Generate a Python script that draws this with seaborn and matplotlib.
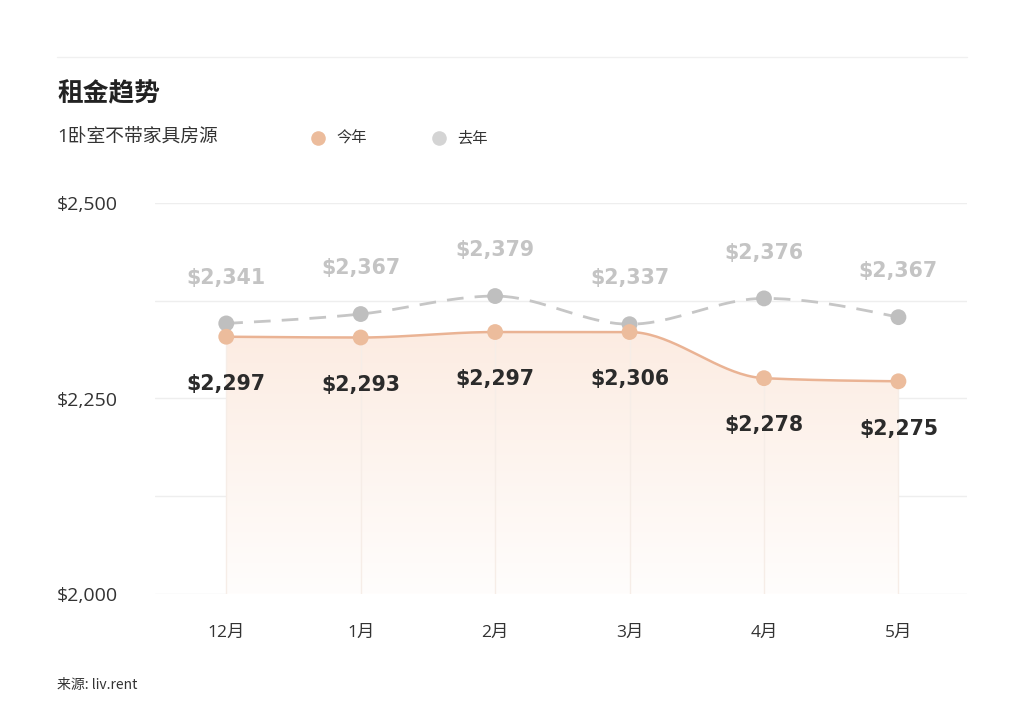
import numpy as np
import pandas as pd
import matplotlib
matplotlib.use("Agg")
import matplotlib.pyplot as plt
import seaborn as sns
from matplotlib.colors import LinearSegmentedColormap
from matplotlib.lines import Line2D

sns.set_theme(style="white")
plt.rcParams["font.family"] = ["Open Sans", "Noto Sans CJK SC", "DejaVu Sans"]

# data
months = ["12月", "1月", "2月", "3月", "4月", "5月"]
this_year = [2329, 2328, 2335, 2335, 2276, 2272]      # plotted positions
last_year = [2346, 2358, 2381, 2345, 2378, 2354]
this_labels = ["$2,297", "$2,293", "$2,297", "$2,306", "$2,278", "$2,275"]
last_labels = ["$2,341", "$2,367", "$2,379", "$2,337", "$2,376", "$2,367"]
y_ticks = [2000, 2250, 2500]
y_tick_labels = ["$2,000", "$2,250", "$2,500"]
y_grid = [2000, 2125, 2250, 2375, 2500]

PEACH = "#ecbc9c"
PEACH_LINE = "#eab394"
GREY = "#bfbfbf"
GREY_LINE = "#c6c6c6"
LABEL_FONT = ["DejaVu Sans", "Noto Sans CJK SC"]


def monotone(xs, ys, n=40):
    """Monotone cubic curve through the points (same idea as d3 curveMonotoneX)."""
    xs = np.asarray(xs, float)
    ys = np.asarray(ys, float)
    h = np.diff(xs)
    s = np.diff(ys) / h
    t = np.zeros_like(ys)
    for i in range(1, len(xs) - 1):
        p = (s[i - 1] * h[i] + s[i] * h[i - 1]) / (h[i - 1] + h[i])
        t[i] = (np.sign(s[i - 1]) + np.sign(s[i])) * min(abs(s[i - 1]), abs(s[i]), 0.5 * abs(p))
    t[0] = (3 * s[0] - t[1]) / 2
    t[-1] = (3 * s[-1] - t[-2]) / 2
    out_x, out_y = [], []
    for i in range(len(xs) - 1):
        u = np.linspace(0, 1, n, endpoint=(i == len(xs) - 2))
        h00 = 2 * u**3 - 3 * u**2 + 1
        h10 = u**3 - 2 * u**2 + u
        h01 = -2 * u**3 + 3 * u**2
        h11 = u**3 - u**2
        out_x.append(xs[i] + u * h[i])
        out_y.append(h00 * ys[i] + h10 * h[i] * t[i] + h01 * ys[i + 1] + h11 * h[i] * t[i + 1])
    return np.concatenate(out_x), np.concatenate(out_y)


x = np.arange(len(months))
tx, ty = monotone(x, this_year)
lx, ly = monotone(x, last_year)
curve = pd.concat([
    pd.DataFrame({"x": tx, "y": ty, "series": "今年"}),
    pd.DataFrame({"x": lx, "y": ly, "series": "去年"}),
])
points = pd.DataFrame({
    "x": np.concatenate([x, x]),
    "y": last_year + this_year,
    "series": ["去年"] * len(x) + ["今年"] * len(x),
})

fig = plt.figure(figsize=(10.24, 7.17), dpi=100)
ax = fig.add_axes([155 / 1024, 1 - 594 / 717, 812 / 1024, 391 / 717])
ax.set_xlim(-0.53, 5.51)
ax.set_ylim(2000, 2500)

for g in y_grid:
    ax.axhline(g, color="#eeeeee", lw=1, zorder=0)

# gradient fill under this year's line
poly = ax.fill_between(tx, ty, 2000, color="none", lw=0, zorder=1)
grad = LinearSegmentedColormap.from_list("fill", ["#fffdfc", "#fcece2"])
img = ax.imshow(np.linspace(0, 1, 256).reshape(-1, 1), cmap=grad, origin="lower",
                extent=[x[0], x[-1], 2000, max(ty)], aspect="auto", zorder=1)
img.set_clip_path(poly.get_paths()[0], transform=ax.transData)

for xi, yi in zip(x, this_year):
    ax.plot([xi, xi], [2000, yi], color="#f6ede7", lw=1, zorder=1.5)

sns.lineplot(data=curve[curve.series == "去年"], x="x", y="y", ax=ax, color=GREY_LINE,
             lw=2, dashes=False, estimator=None, sort=False, zorder=2, legend=False)
ax.lines[-1].set_dashes([6, 4])
sns.lineplot(data=curve[curve.series == "今年"], x="x", y="y", ax=ax, color=PEACH_LINE,
             lw=1.8, estimator=None, sort=False, zorder=3, legend=False)
sns.scatterplot(data=points, x="x", y="y", hue="series", palette={"今年": PEACH, "去年": GREY},
                s=130, linewidth=0, ax=ax, zorder=4, legend=False)

for xi, yi, lab in zip(x, last_year, last_labels):
    ax.annotate(lab, (xi, yi), xytext=(0, 33), textcoords="offset points", ha="center",
                va="center", fontsize=14.8, fontweight="bold", color="#c4c4c4",
                family=LABEL_FONT, zorder=5)
for xi, yi, lab in zip(x, this_year, this_labels):
    ax.annotate(lab, (xi, yi), xytext=(0, -34), textcoords="offset points", ha="center",
                va="center", fontsize=14.8, fontweight="bold", color="#2b2b2b",
                family=LABEL_FONT, zorder=5)

ax.set_xticks(x)
ax.set_xticklabels(months, fontsize=12.5, color="#333333")
ax.set_yticks(y_ticks)
ax.set_yticklabels(y_tick_labels, fontsize=14, color="#333333")
for lab in ax.get_yticklabels():
    lab.set_ha("left")
ax.tick_params(axis="y", length=0, pad=70.5)
ax.tick_params(axis="x", length=0, pad=22)
ax.set_xlabel("")
ax.set_ylabel("")
sns.despine(ax=ax, left=True, bottom=True)
ax.patch.set_alpha(0)

# header, legend and source
fig.add_artist(Line2D([57 / 1024, 967 / 1024], [1 - 57 / 717] * 2, color="#f0f0f0", lw=1))
fig.text(57 / 1024, 1 - 94 / 717, "租金趋势", fontsize=18.5, fontweight="bold", color="#222222",
         va="center", family=["Noto Sans CJK SC"])
fig.text(57 / 1024, 1 - 137 / 717, "1卧室不带家具房源", fontsize=13.5, color="#333333",
         va="center", family=["Open Sans", "Noto Sans CJK SC"])
for cx, tx_, col, name in [(318, 336, PEACH, "今年"), (439, 457, "#d4d4d4", "去年")]:
    fig.add_artist(Line2D([cx / 1024], [1 - 138 / 717], marker="o", markersize=10.5,
                          color=col, markeredgewidth=0, lw=0))
    fig.text(tx_ / 1024, 1 - 138 / 717, name, fontsize=11, color="#333333", va="center",
             family=["Noto Sans CJK SC"])
fig.text(57 / 1024, 1 - 685 / 717, "来源: liv.rent", fontsize=10, color="#333333", va="center",
         family=["Noto Sans CJK SC"])

fig.savefig("out.png", dpi=100, facecolor="white")
